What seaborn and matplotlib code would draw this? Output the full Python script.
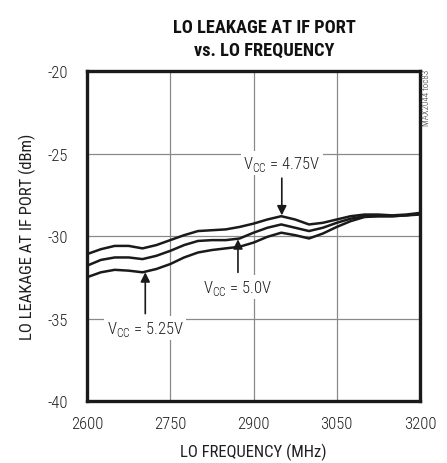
import matplotlib
matplotlib.use('Agg')
import matplotlib.pyplot as plt
from matplotlib import font_manager as fm
import pandas as pd
import seaborn as sns

# LO frequency (MHz) and LO leakage (dBm)
freq = [2600, 2625, 2650, 2675, 2700, 2725, 2750, 2775, 2800, 2825, 2850, 2875, 2900,
        2925, 2950, 2975, 3000, 3025, 3050, 3075, 3100, 3125, 3150, 3175, 3200]
vcc_475 = [-31.1, -30.8, -30.6, -30.6, -30.75, -30.55, -30.25, -29.95, -29.7, -29.65, -29.6, -29.45, -29.25,
           -29.0, -28.8, -29.0, -29.3, -29.2, -29.0, -28.8, -28.7, -28.7, -28.75, -28.7, -28.6]
vcc_50 = [-31.8, -31.45, -31.3, -31.3, -31.4, -31.2, -30.9, -30.55, -30.3, -30.25, -30.25, -30.15, -29.8,
          -29.5, -29.3, -29.5, -29.7, -29.5, -29.2, -28.95, -28.8, -28.8, -28.8, -28.75, -28.65]
vcc_525 = [-32.5, -32.2, -32.05, -32.1, -32.2, -32.0, -31.7, -31.3, -31.0, -30.85, -30.75, -30.65, -30.4,
           -30.05, -29.8, -29.95, -30.15, -29.85, -29.45, -29.1, -28.85, -28.8, -28.8, -28.75, -28.7]

x_ticks = [2600, 2750, 2900, 3050, 3200]
y_ticks = [-40, -35, -30, -25, -20]

df = pd.DataFrame({'freq': freq * 3,
                   'leak': vcc_475 + vcc_50 + vcc_525,
                   'vcc': ['4.75'] * len(freq) + ['5.0'] * len(freq) + ['5.25'] * len(freq)})

# pick a narrow sans if one is installed
names = {f.name for f in fm.fontManager.ttflist}
family, stretch, scale = 'Liberation Sans', 'normal', 0.8
for cand in ['Liberation Sans Narrow', 'Arial Narrow', 'Roboto Condensed', 'Open Sans Condensed',
             'Noto Sans Condensed', 'DejaVu Sans Condensed']:
    if cand in names:
        family, scale = cand, 1.0
        break
else:
    for f in fm.fontManager.ttflist:
        if f.stretch in ('condensed', 'semi-condensed', 'extra-condensed') and 'Sans' in f.name:
            family, stretch, scale = f.name, f.stretch, 0.95
            break

sns.set_style('white')
plt.rcParams['font.family'] = [family, 'DejaVu Sans']
plt.rcParams['font.stretch'] = stretch
plt.rcParams['font.weight'] = 'light'
plt.rcParams['axes.unicode_minus'] = False
plt.rcParams['mathtext.fontset'] = 'custom'
plt.rcParams['mathtext.rm'] = family + ':light'

fs = 12.0 * scale
ink = '#1f1f1f'

fig = plt.figure(figsize=(4.47, 4.64), dpi=100)
ax = fig.add_axes([87 / 447, 62 / 464, 333 / 447, 330 / 464])

sns.lineplot(data=df, x='freq', y='leak', hue='vcc', palette=['#1a1a1a'] * 3,
             linewidth=1.8, legend=False, ax=ax, zorder=3)

ax.set_xlim(2600, 3200)
ax.set_ylim(-40, -20)
ax.set_xticks(x_ticks)
ax.set_yticks(y_ticks)
ax.grid(True, color='#8a8a8a', linewidth=0.9)
ax.tick_params(length=0, labelsize=fs, colors=ink)
ax.tick_params(axis='x', pad=11)
ax.tick_params(axis='y', pad=14)
for s in ax.spines.values():
    s.set_linewidth(2.4)
    s.set_color('#1a1a1a')
ax.set_xlabel('LO FREQUENCY (MHz)', fontsize=fs, color=ink, labelpad=8)
ax.set_ylabel('LO LEAKAGE AT IF PORT (dBm)', fontsize=fs, color=ink, labelpad=8)

fig.text(0.592, 0.958, 'LO LEAKAGE AT IF PORT\nvs. LO FREQUENCY', ha='center', va='top',
         fontsize=13.2 * scale, fontweight='bold', linespacing=1.3, color='#111111')
fig.text(0.955, 0.79, 'MAX2044 toc83', rotation=90, ha='center', va='center',
         fontsize=6.5, color='#333333')

# annotations with arrows
box = dict(boxstyle='square,pad=0.15', fc='white', ec='none')
arr = dict(arrowstyle='-|>', color='#1a1a1a', lw=1.2, mutation_scale=14, shrinkA=2, shrinkB=0)
ax.annotate(r'V$_{\mathregular{CC}}$ = 4.75V', xy=(2951, -28.75), xytext=(2951, -25.6),
            ha='center', va='center', fontsize=fs, color=ink, bbox=box, arrowprops=arr, zorder=5)
ax.annotate(r'V$_{\mathregular{CC}}$ = 5.0V', xy=(2872, -30.2), xytext=(2872, -33.1),
            ha='center', va='center', fontsize=fs, color=ink, bbox=box, arrowprops=arr, zorder=5)
ax.annotate(r'V$_{\mathregular{CC}}$ = 5.25V', xy=(2705, -32.2), xytext=(2705, -35.6),
            ha='center', va='center', fontsize=fs, color=ink, bbox=box, arrowprops=arr, zorder=5)

fig.savefig('out.png', dpi=100)
